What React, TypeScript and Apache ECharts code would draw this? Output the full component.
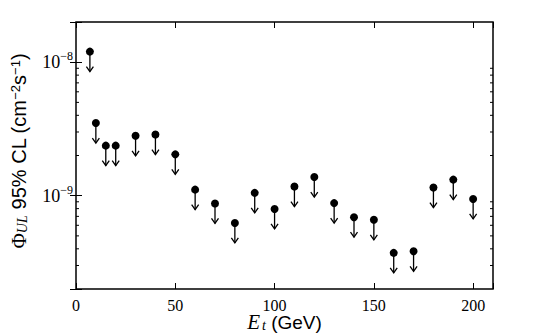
import React, { useEffect, useRef } from "react";
import * as echarts from "echarts";

// Energy thresholds E_t (GeV)
const energies = [7, 10, 15, 20, 30, 40, 50, 60, 70, 80, 90, 100, 110, 120, 130, 140, 150, 160, 170, 180, 190, 200];
// 95% CL upper limits on flux (cm^-2 s^-1)
const fluxUL = [
  1.2e-8, 3.5e-9, 2.37e-9, 2.37e-9, 2.81e-9, 2.87e-9, 2.04e-9, 1.11e-9, 8.75e-10, 6.25e-10, 1.05e-9,
  7.95e-10, 1.17e-9, 1.38e-9, 8.8e-10, 6.9e-10, 6.6e-10, 3.73e-10, 3.83e-10, 1.15e-9, 1.32e-9, 9.45e-10,
];
const xTicks = [0, 50, 100, 150, 200];
const yMin = 2e-10;
const yMax = 2e-8;
const minorMantissas = [2, 3, 4, 5, 6, 7, 8, 9];
const decades = [1e-10, 1e-9, 1e-8];

export default function App() {
  const ref = useRef<HTMLDivElement>(null);
  useEffect(() => {
    if (!ref.current) return;
    document.body.style.margin = "0";
    const chart = echarts.init(ref.current, null, { renderer: "svg" });
    const points = energies.map((e, i) => [e, fluxUL[i]]);
    const minorVals: number[][] = [];
    decades.forEach((d) => minorMantissas.forEach((m) => {
      const v = m * d;
      if (v > yMin * 1.001 && v < yMax * 0.999) minorVals.push([0, v]);
    }));
    const serif = "Liberation Serif";
    const sans = "Liberation Sans";
    const tickCommon = { inside: true, length: 6, lineStyle: { color: "#000", width: 1 } };
    const grid = { left: 76, right: 47, top: 22, bottom: 44 };
    const plotCx = grid.left + (540 - grid.left - grid.right) / 2;
    chart.setOption({
      animation: false,
      grid: { ...grid, show: true, borderColor: "#000", borderWidth: 1.5, backgroundColor: "#fff" },
      xAxis: [
        {
          type: "value", min: 0, max: 210, interval: 50, position: "bottom",
          axisLine: { show: false }, splitLine: { show: false },
          axisTick: tickCommon,
          axisLabel: {
            margin: 9, color: "#000", fontFamily: serif, fontSize: 16, lineHeight: 14,
            formatter: (v: number) => (xTicks.includes(v) ? String(v) : ""),
          },
        },
        {
          type: "value", min: 0, max: 210, interval: 50, position: "top",
          axisLine: { show: false }, splitLine: { show: false },
          axisTick: tickCommon, axisLabel: { show: false },
        },
      ],
      yAxis: [
        {
          type: "log", min: yMin, max: yMax, position: "left",
          axisLine: { show: false }, splitLine: { show: false },
          axisTick: tickCommon,
          axisLabel: {
            margin: 3, color: "#000",
            formatter: (v: number) => {
              const l = Math.log10(v);
              const e = Math.round(l);
              if (Math.abs(l - e) > 1e-6) return "";
              return `{b|10}{s|\u2212${Math.abs(e)}}`;
            },
            rich: {
              b: { fontFamily: serif, fontSize: 18, color: "#000", lineHeight: 24 },
              s: { fontFamily: serif, fontSize: 12, color: "#000", verticalAlign: "top", lineHeight: 24 },
            },
          },
        },
        {
          type: "log", min: yMin, max: yMax, position: "right",
          axisLine: { show: false }, splitLine: { show: false },
          axisTick: tickCommon, axisLabel: { show: false },
        },
      ],
      graphic: [
        {
          type: "text", x: plotCx, y: 322,
          style: {
            text: "{e|E}{sub|t}{t| (GeV)}",
            align: "center", verticalAlign: "middle",
            rich: {
              e: { fontFamily: serif, fontStyle: "italic", fontSize: 21, fill: "#000", padding: [0, 2, 0, 0], lineHeight: 20 },
              sub: { fontFamily: serif, fontStyle: "italic", fontSize: 14, fill: "#000", verticalAlign: "bottom", lineHeight: 14 },
              t: { fontFamily: sans, fontSize: 19, fill: "#000", lineHeight: 20 },
            },
          },
        },
        {
          type: "text", x: 19, y: 151, rotation: Math.PI / 2,
          style: {
            text: "{phi|\u03A6}{sub|UL}{t| 95% CL (cm}{sup|\u22122}{t|s}{sup|\u22121}{t|)}",
            align: "center", verticalAlign: "middle",
            rich: {
              phi: { fontFamily: serif, fontSize: 21, fill: "#000" },
              sub: { fontFamily: serif, fontStyle: "italic", fontSize: 14, fill: "#000", verticalAlign: "bottom" },
              t: { fontFamily: sans, fontSize: 20, fill: "#000" },
              sup: { fontFamily: sans, fontSize: 13, fill: "#000", verticalAlign: "top" },
            },
          },
        },
      ],
      series: [
        {
          type: "custom", xAxisIndex: 0, yAxisIndex: 0, data: minorVals, silent: true,
          renderItem: (params: any, api: any) => {
            const y = api.coord([0, api.value(1)])[1];
            const cs = params.coordSys;
            return {
              type: "group",
              children: [
                { type: "line", shape: { x1: cs.x, y1: y, x2: cs.x + 3, y2: y }, style: { stroke: "#000", lineWidth: 1 } },
                { type: "line", shape: { x1: cs.x + cs.width - 3, y1: y, x2: cs.x + cs.width, y2: y }, style: { stroke: "#000", lineWidth: 1 } },
              ],
            };
          },
        },
        {
          type: "custom", xAxisIndex: 0, yAxisIndex: 0, data: points, silent: true,
          renderItem: (_params: any, api: any) => {
            const p = api.coord([api.value(0), api.value(1)]);
            const L = 20, hw = 3.5, hh = 5;
            return {
              type: "group",
              children: [
                { type: "line", shape: { x1: p[0], y1: p[1], x2: p[0], y2: p[1] + L }, style: { stroke: "#000", lineWidth: 1.3 } },
                {
                  type: "polyline",
                  shape: { points: [[p[0] - hw, p[1] + L - hh], [p[0], p[1] + L], [p[0] + hw, p[1] + L - hh]] },
                  style: { stroke: "#000", fill: null, lineWidth: 1.3 },
                },
              ],
            };
          },
        },
        {
          type: "scatter", xAxisIndex: 0, yAxisIndex: 0, data: points,
          symbol: "circle", symbolSize: 8, itemStyle: { color: "#000", opacity: 1 }, silent: true,
        },
      ],
    });
    return () => chart.dispose();
  }, []);
  return <div ref={ref} style={{ width: 540, height: 333 }} />;
}
